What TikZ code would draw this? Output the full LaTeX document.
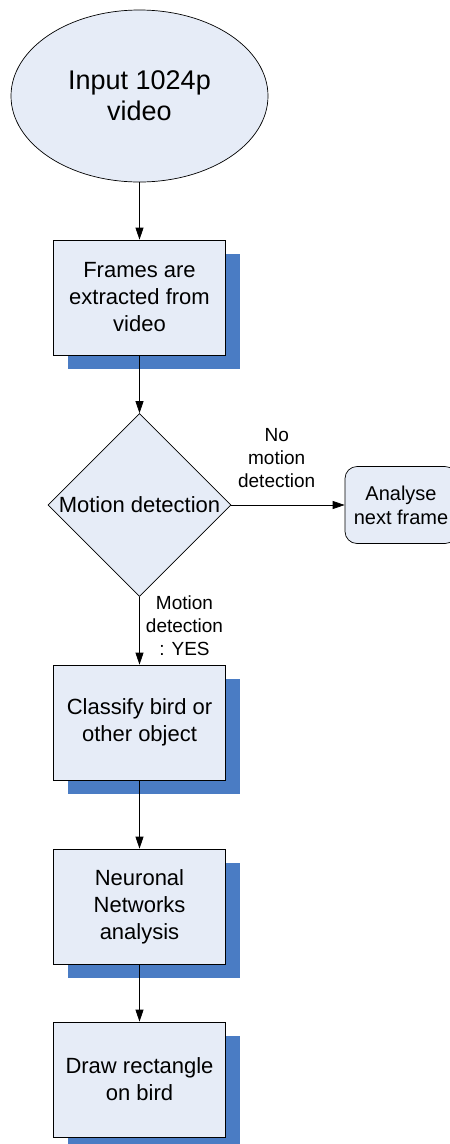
\documentclass[tikz,border=0pt]{standalone}
\usepackage{fontspec}
\setmainfont{Liberation Sans}
\usetikzlibrary{shapes.geometric}
\usetikzlibrary{shadows}
\usetikzlibrary{arrows.meta}
\definecolor{boxfill}{RGB}{230,236,247}
\definecolor{shadowblue}{RGB}{74,124,196}

\begin{document}
\begin{tikzpicture}[x=1pt, y=-1pt, line width=0.7pt,
  startnode/.style={ellipse, draw, fill=boxfill, minimum width=257pt, minimum height=172pt, align=center, font=\fontsize{27}{31}\selectfont},
  process/.style={rectangle, draw, fill=boxfill, minimum width=172pt, minimum height=115pt, align=center, font=\fontsize{22}{27}\selectfont, drop shadow={shadow xshift=14pt, shadow yshift=-14pt, fill=shadowblue, opacity=1}},
  decision/.style={diamond, draw, fill=boxfill, minimum width=183pt, minimum height=183pt, inner sep=0pt},
  sidebox/.style={rectangle, rounded corners=12pt, draw, fill=boxfill, minimum width=112pt, minimum height=77pt, align=center, font=\fontsize{20}{24}\selectfont},
  edgelabel/.style={align=center, font=\fontsize{19}{23}\selectfont},
  flow/.style={-{Triangle[length=12pt, width=8pt]}}]

\useasboundingbox (0,0) rectangle (450,1144);

% Input
  \node[startnode] (input) at (139.5,96) {Input 1024p\\video};

% Frames
  \node[process] (frames) at (139.5,297.5) {Frames are\\extracted from\\video};

% Motion check
  \node[decision, label={[font=\fontsize{22}{26}\selectfont]center:Motion detection}] (motion) at (139.5,505) {};
  \node[sidebox] (nextframe) at (401,505) {Analyse\\next frame};

% Classification
  \node[process] (classify) at (139.5,722.5) {Classify bird or\\other object};
  \node[process] (neural) at (139.5,906.5) {Neuronal\\Networks\\analysis};
  \node[process] (drawrect) at (139.5,1079.5) {Draw rectangle\\on bird};

% Arrows
\draw[flow] (input) -- (frames);
\draw[flow] (frames) -- (motion);
\draw[flow] (motion) -- node[edgelabel, pos=0.4, yshift=47pt] {No\\motion\\detection} (nextframe);
\draw[flow] (motion) -- node[edgelabel, pos=0.42, xshift=45pt] {Motion\\detection\\: YES} (classify);
\draw[flow] (classify) -- (neural);
\draw[flow] (neural) -- (drawrect);

\end{tikzpicture}
\end{document}
